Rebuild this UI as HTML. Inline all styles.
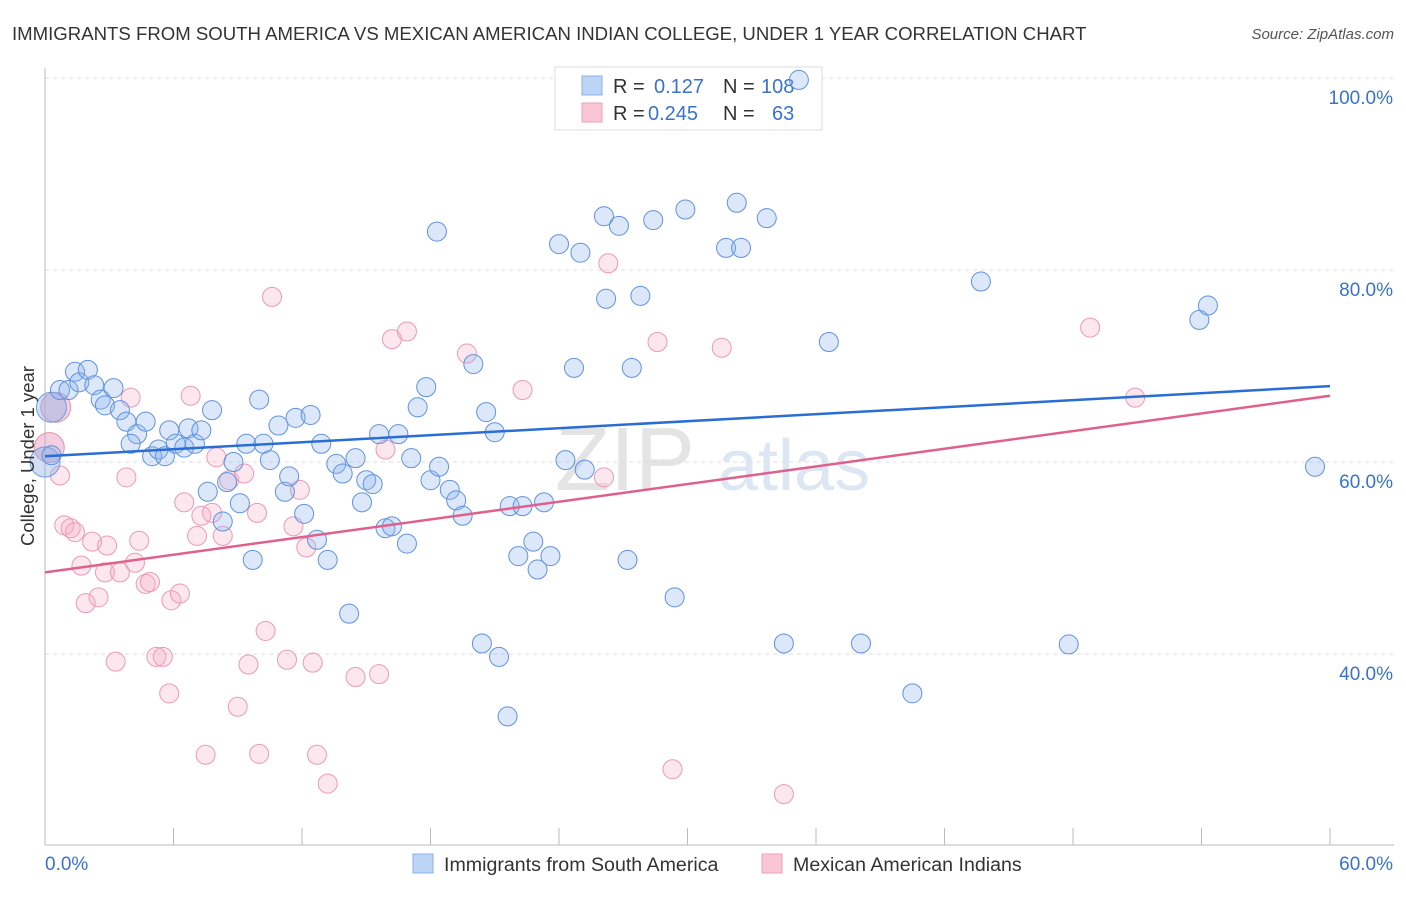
<!DOCTYPE html>
<html><head><meta charset="utf-8"><style>
body{margin:0;background:#fff;font-family:"Liberation Sans",sans-serif;}
svg text{font-family:"Liberation Sans",sans-serif;}
</style></head><body>
<svg id="chart" width="1406" height="892" xmlns="http://www.w3.org/2000/svg">
<text x="12" y="40" font-size="18.6" fill="#333">IMMIGRANTS FROM SOUTH AMERICA VS MEXICAN AMERICAN INDIAN COLLEGE, UNDER 1 YEAR CORRELATION CHART</text>
<text x="1394" y="39" font-size="15" fill="#555" text-anchor="end" font-style="italic">Source: ZipAtlas.com</text>
<g><text x="555" y="490" font-size="90" fill="#e4e4e4" font-family="Liberation Serif">ZIP</text><text x="718" y="490" font-size="72" fill="#dde6f3">atlas</text></g>
<g id="grid"></g><g id="axes"></g>
<g>
<rect x="555" y="67" width="267" height="63" fill="#fff" stroke="#ddd"/>
<rect x="582" y="76" width="20" height="19" fill="#bcd4f6" stroke="#8ab0e8"/>
<rect x="582" y="103" width="20" height="19" fill="#f9c6d6" stroke="#eea0b8"/>
<text x="613" y="93" font-size="20" fill="#333">R = </text><text x="654" y="93" font-size="20" fill="#3a72cc">0.127</text>
<text x="723" y="93" font-size="20" fill="#333">N = </text><text x="761" y="93" font-size="20" fill="#3a72cc">108</text>
<text x="613" y="120" font-size="20" fill="#333">R = </text><text x="648" y="120" font-size="20" fill="#3a72cc">0.245</text>
<text x="723" y="120" font-size="20" fill="#333">N = </text><text x="772" y="120" font-size="20" fill="#3a72cc">63</text>
</g>
<g id="pinkpts"></g><g id="bluepts"></g><g id="lines"></g>
<text transform="translate(34,456) rotate(-90)" font-size="18.5" fill="#333" text-anchor="middle">College, Under 1 year</text>
<g>
<rect x="413" y="854" width="20" height="19" fill="#bcd4f6" stroke="#8ab0e8"/>
<text x="444" y="871" font-size="19.6" fill="#333">Immigrants from South America</text>
<rect x="762" y="854" width="20" height="19" fill="#f9c6d6" stroke="#eea0b8"/>
<text x="793" y="871" font-size="19.6" fill="#333">Mexican American Indians</text>
</g>
</svg>
<script>
const yTicks=[40,60,80,100];
const yTickLabels=["40.0%","60.0%","80.0%","100.0%"];
const xTickLabels=["0.0%","60.0%"];
const blueX=[0.3,0.7,1.1,1.4,1.6,2.0,2.3,2.6,2.8,3.2,3.5,3.8,4.3,4.7,4.0,5.0,5.3,5.6,5.8,6.1,6.5,6.7,7.0,7.3,7.6,7.8,8.3,8.5,8.8,9.1,9.4,9.7,10.0,10.2,10.5,10.9,11.2,11.4,11.7,12.1,12.4,12.7,12.9,13.2,13.6,13.9,14.2,14.5,14.8,15.0,15.3,15.6,15.9,16.2,16.5,16.9,17.1,17.4,17.8,18.0,18.3,18.4,18.9,19.2,19.5,20.0,20.6,21.0,20.4,21.2,21.6,21.7,22.1,22.3,22.8,23.0,23.3,23.6,24.0,24.3,24.7,25.0,25.2,26.1,26.2,26.8,27.2,27.4,27.8,28.4,29.4,29.9,31.8,32.3,32.5,33.7,34.5,35.2,36.6,38.1,40.5,43.7,47.8,53.9,54.3,59.3];
const blueY=[60.7,67.5,67.5,69.4,68.3,69.6,68.0,66.5,65.9,67.7,65.4,64.2,62.9,64.2,61.9,60.6,61.3,60.6,63.3,61.9,61.5,63.5,61.9,63.3,56.9,65.4,53.8,57.9,60.0,55.7,61.9,49.8,66.5,61.9,60.2,63.8,56.9,58.5,64.6,54.6,64.9,51.9,61.9,49.8,59.8,58.8,44.2,60.4,55.8,58.1,57.7,62.9,53.1,53.3,62.9,51.5,60.4,65.7,67.8,58.1,84.0,59.5,57.1,56.0,54.4,70.2,65.2,63.1,41.1,39.7,33.5,55.4,50.2,55.4,51.7,48.8,55.8,50.2,82.7,60.2,69.8,81.8,59.2,85.6,77.0,84.6,49.8,69.8,77.3,85.2,45.9,86.3,82.3,87.0,82.3,85.4,41.1,99.8,72.5,41.1,35.9,78.8,41.0,74.8,76.3,59.5];
const blueBigX=[0.0,0.3];
const blueBigY=[60.0,65.7];
const pinkX=[0.7,0.9,1.2,1.4,1.7,1.9,2.2,2.5,2.8,2.9,3.3,3.5,3.8,4.0,4.2,4.4,4.7,4.9,5.2,5.5,5.8,5.9,6.3,6.5,6.8,7.1,7.3,7.5,7.8,8.0,8.3,8.6,9.0,9.3,9.5,9.9,10.0,10.3,10.6,11.3,11.6,11.9,12.2,12.5,12.7,13.2,14.5,15.6,15.9,16.2,16.9,19.7,22.3,26.1,26.3,28.6,29.3,31.6,34.5,48.8,50.9];
const pinkY=[58.6,53.4,53.1,52.7,49.2,45.3,51.7,45.9,48.5,51.3,39.2,48.5,58.4,66.7,49.5,51.8,47.3,47.5,39.7,39.7,35.9,45.6,46.3,55.8,66.9,52.3,54.4,29.5,54.7,60.5,52.3,58.1,34.5,58.8,38.9,54.7,29.6,42.4,77.2,39.4,53.3,57.1,51.1,39.1,29.5,26.5,37.6,37.9,61.3,72.8,73.6,71.3,67.5,58.4,80.7,72.5,28.0,71.9,25.4,74.0,66.7];
const pinkBigX=[0.5,0.2];
const pinkBigY=[65.7,61.5];
const trendX=[0,60];
const blueTrend=[60.6,67.9];
const pinkTrend=[48.5,66.9];
const NS="http://www.w3.org/2000/svg";
const sx=v=>45+v*(1285/60);
const sy=v=>78+(100-v)*9.6;
function mk(tag,attrs,parent){const e=document.createElementNS(NS,tag);for(const k in attrs)e.setAttribute(k,attrs[k]);parent.appendChild(e);return e;}
const grid=document.getElementById('grid'),axes=document.getElementById('axes');
yTicks.forEach((t,i)=>{
  const l=mk('line',{x1:45,x2:1394,y1:sy(t),y2:sy(t),stroke:'#ddd','stroke-dasharray':'4,4'},grid);
  
  
  const tx=mk('text',{x:1393,y:sy(t)+26,'font-size':19,fill:'#3a72cc','text-anchor':'end'},grid);
  tx.textContent=yTickLabels[i];
  
  
});
const xa=mk('line',{x1:45,x2:1394,y1:845,y2:845,stroke:'#bbb'},axes);


const ya=mk('line',{x1:45,x2:45,y1:68,y2:845,stroke:'#bbb'},axes);


for(let i=0;i<=10;i++){const v=i*6;
  const t=mk('line',{x1:sx(v),x2:sx(v),y1:828,y2:845,stroke:'#bbb'},axes);
  
  }
const xl0=mk('text',{x:45,y:870,'font-size':19,fill:'#3a72cc'},axes);xl0.textContent=xTickLabels[0];


const xl1=mk('text',{x:1393,y:870,'font-size':19,fill:'#3a72cc','text-anchor':'end'},axes);xl1.textContent=xTickLabels[1];


function pts(X,Y,r,g,fill,stroke,name){X.forEach((x,i)=>{
  const c=mk('circle',{cx:sx(x),cy:sy(Y[i]),r:r,fill:fill,stroke:stroke,'stroke-width':1},g);
  
  });}
const pg=document.getElementById('pinkpts'),bg=document.getElementById('bluepts');
pts(pinkBigX,pinkBigY,15,pg,'rgba(225,150,190,0.45)','#e390ae','pink-point');
pts(pinkX,pinkY,9.5,pg,'rgba(245,170,195,0.28)','#eb9ab4','pink-point');
pts(blueBigX,blueBigY,15,bg,'rgba(140,175,230,0.4)','#6f9be0','blue-point');
pts(blueX,blueY,9.5,bg,'rgba(140,180,240,0.3)','#5f92dd','blue-point');
const lg=document.getElementById('lines');
const bl=mk('line',{x1:sx(trendX[0]),y1:sy(blueTrend[0]),x2:sx(trendX[1]),y2:sy(blueTrend[1]),stroke:'#2a6dd4','stroke-width':2.5},lg);


const pl=mk('line',{x1:sx(trendX[0]),y1:sy(pinkTrend[0]),x2:sx(trendX[1]),y2:sy(pinkTrend[1]),stroke:'#e0608c','stroke-width':2.5},lg);


</script>
</body></html>
